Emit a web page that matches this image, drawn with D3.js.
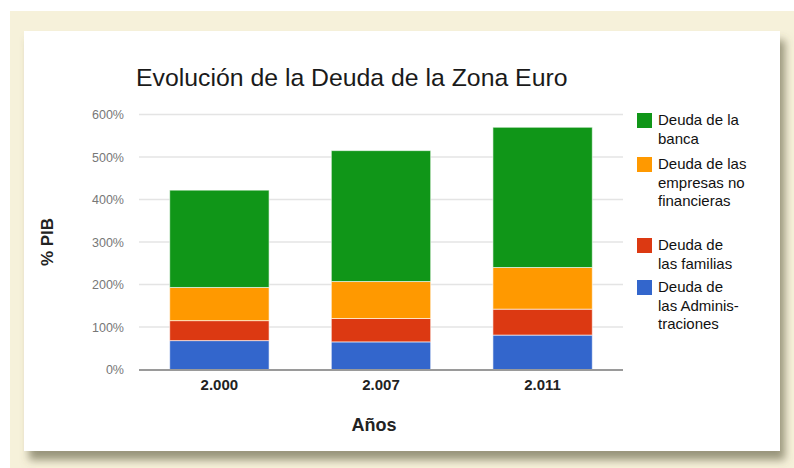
<!DOCTYPE html>
<html>
<head>
<meta charset="utf-8">
<script src="https://cdn.jsdelivr.net/npm/d3@7"></script>
<style>
  body { margin: 0; background: #fff; }
  text { font-family: "Liberation Sans", Arial, sans-serif; }
</style>
</head>
<body>
<div id="chart"></div>
<script>
// data (% of GDP)
const years = ["2.000", "2.007", "2.011"];
const adminis = [68, 65, 81];
const familias = [47, 55, 61];
const empresas = [78, 87, 98];
const banca = [229, 308, 330];
const yTicks = [0, 100, 200, 300, 400, 500, 600];

const seriesNames = ["Deuda de las Administraciones", "Deuda de las familias",
  "Deuda de las empresas no financieras", "Deuda de la banca"];
const seriesColors = ["#3366cc", "#dc3912", "#ff9900", "#109618"];

// legend labels as wrapped in the picture (top entry first)
const legendLines = [
  ["Deuda de la", "banca"],
  ["Deuda de las", "empresas no", "financieras"],
  ["Deuda de", "las familias"],
  ["Deuda de", "las Adminis-", "traciones"]
];

const width = 794, height = 468;
const plot = { left: 139, right: 623, top: 114.5, bottom: 369.5 };

const svg = d3.select("#chart").append("svg")
  .attr("width", width)
  .attr("height", height);

// shadow filter for the card
const defs = svg.append("defs");
const f = defs.append("filter").attr("id", "shadow")
  .attr("x", "-5%").attr("y", "-5%").attr("width", "115%").attr("height", "115%");
f.append("feDropShadow")
  .attr("dx", 5).attr("dy", 9).attr("stdDeviation", 4.5)
  .attr("flood-color", "#5a583a").attr("flood-opacity", 0.6);

// beige page and white card
svg.append("rect").attr("x", 10).attr("y", 11)
  .attr("width", width - 10).attr("height", height - 11)
  .attr("fill", "#f6f1da");
svg.append("rect").attr("x", 24).attr("y", 31)
  .attr("width", 756).attr("height", 420)
  .attr("fill", "#fff")
  .attr("filter", "url(#shadow)");

// scales
const x = d3.scaleBand()
  .domain(years)
  .range([plot.left, plot.right])
  .paddingInner(0.385)
  .paddingOuter(0.19);

const y = d3.scaleLinear()
  .domain([0, 600])
  .range([plot.bottom, plot.top]);

// gridlines
svg.append("g").selectAll("line")
  .data(yTicks.filter(d => d > 0))
  .enter().append("line")
  .attr("x1", plot.left).attr("x2", plot.right)
  .attr("y1", d => y(d)).attr("y2", d => y(d))
  .attr("stroke", "#e4e4e4")
  .attr("stroke-width", 1.5);

// y tick labels
svg.append("g").selectAll("text")
  .data(yTicks)
  .enter().append("text")
  .attr("x", 124)
  .attr("y", d => y(d) + 4.5)
  .attr("text-anchor", "end")
  .style("font-size", "12.5px")
  .style("fill", "#777")
  .text(d => d + "%");

// stacked bars
const table = years.map((yr, i) => ({
  year: yr, a: adminis[i], f: familias[i], e: empresas[i], b: banca[i]
}));
const stack = d3.stack().keys(["a", "f", "e", "b"]);
const layers = stack(table);

svg.append("g").selectAll("g")
  .data(layers)
  .enter().append("g")
  .attr("fill", (d, i) => seriesColors[i])
  .selectAll("rect")
  .data(d => d)
  .enter().append("rect")
  .attr("x", d => x(d.data.year))
  .attr("width", x.bandwidth())
  .attr("y", d => y(d[1]))
  .attr("height", d => y(d[0]) - y(d[1]))
  .attr("stroke", "#ffffff")
  .attr("stroke-opacity", 0.6)
  .attr("stroke-width", 1)
  .append("title")
  .text(d => d.data.year + ": " + (d[1] - d[0]) + "%");

// baseline
svg.append("line")
  .attr("x1", plot.left).attr("x2", plot.right)
  .attr("y1", plot.bottom + 0.5).attr("y2", plot.bottom + 0.5)
  .attr("stroke", "#9a9a9a")
  .attr("stroke-width", 2);

// x labels
svg.append("g").selectAll("text")
  .data(years)
  .enter().append("text")
  .attr("x", d => x(d) + x.bandwidth() / 2)
  .attr("y", 390)
  .attr("text-anchor", "middle")
  .style("font-size", "15px")
  .style("font-weight", "bold")
  .style("fill", "#222")
  .text(d => d);

// title
svg.append("text")
  .attr("x", 136)
  .attr("y", 86)
  .style("font-size", "24.8px")
  .style("fill", "#1a1a1a")
  .text("Evolución de la Deuda de la Zona Euro");

// axis titles
svg.append("text")
  .attr("x", 374)
  .attr("y", 431)
  .attr("text-anchor", "middle")
  .style("font-size", "18px")
  .style("font-weight", "bold")
  .style("fill", "#222")
  .text("Años");

svg.append("text")
  .attr("transform", "translate(53,242) rotate(-90)")
  .attr("text-anchor", "middle")
  .style("font-size", "17px")
  .style("font-weight", "bold")
  .style("fill", "#222")
  .text("% PIB");

// legend
const legendTop = [113, 157, 238, 280];
const legendColors = seriesColors.slice().reverse();
const legend = svg.append("g").selectAll("g")
  .data(legendLines)
  .enter().append("g")
  .attr("transform", (d, i) => `translate(637,${legendTop[i]})`);

legend.append("rect")
  .attr("width", 15).attr("height", 15)
  .attr("fill", (d, i) => legendColors[i]);

legend.append("text")
  .attr("x", 21)
  .attr("y", 12)
  .style("font-size", "15px")
  .style("fill", "#111")
  .selectAll("tspan")
  .data(d => d)
  .enter().append("tspan")
  .attr("x", 21)
  .attr("dy", (d, i) => i === 0 ? 0 : 18.5)
  .text(d => d);
</script>
</body>
</html>
